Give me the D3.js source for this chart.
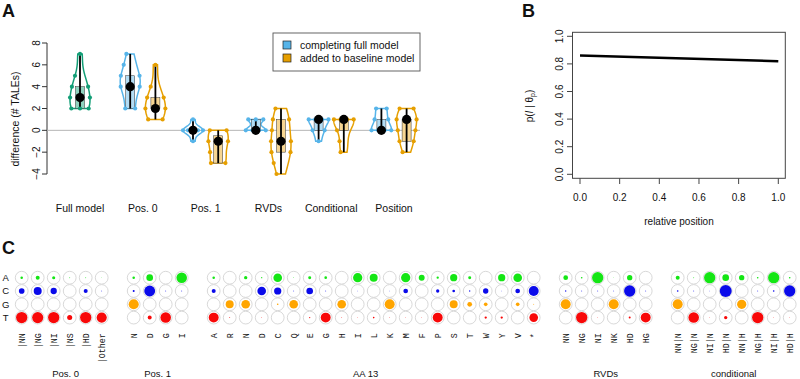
<!DOCTYPE html>
<html><head><meta charset="utf-8">
<script src="https://cdn.jsdelivr.net/npm/d3@7"></script>
<style>
body{margin:0;background:#fff}
svg{display:block}
text{font-family:"Liberation Sans",Arial,Helvetica,sans-serif;fill:#111}
.mono{font-family:"Liberation Mono","DejaVu Sans Mono",monospace}
</style>
</head><body>
<svg id="chart" width="800" height="379"></svg>
<script>
// ================= DATA =================
// Panel A
const categories = ["Full model","Pos. 0","Pos. 1","RVDs","Conditional","Position"];
const groupCategory = [0,1,1,2,2,3,3,4,4,5,5];
const groupKind = ["full","complete","added","complete","added","complete","added","complete","added","complete","added"];
const groupPoints = [
  [2,2,2,3,3,4,4,5,7],
  [2,2,4,4,4,5,5,6,7],
  [1,1,2,2,2,3,3,4,6],
  [-1,0,0,0,0,0,1],
  [-3,-3,-2,-1,-1,0,0],
  [0,0,0,0,1,1,1],
  [-4,-3,-2,-2,-1,-1,0,1,1,2],
  [-1,0,0,1,1,1,1],
  [-2,-1,0,1,1,1,1],
  [0,0,0,0,1,1,2,2],
  [-2,-1,-1,0,0,1,1,1,2,2]
];
const boxLow  = [2, 2, 2, 0, -3, 0, -2, 0, 0, 0, -1];
const boxMed  = [3, 4, 2, 0, -1, 0, -1, 1, 1, 0, 1];
const boxHigh = [4, 5, 3, 0, -0.5, 1, 1, 1, 1, 1, 1];
const yTicksA = [-4,-2,0,2,4,6,8];
const legendLabels = ["completing full model","added to baseline model"];

// Panel B
const relPos = [0, 1];
const pIgivenTheta = [0.86, 0.82];
const bTicks = [0,0.2,0.4,0.6,0.8,1.0];

// Panel C
const bases = ["A","C","G","T"];
const cGroups = ["Pos. 0","Pos. 1","AA 13","RVDs","conditional"];
const cColumns = ["|NN","|NG","|NI","|NS","|HD","|Other",
  "N","D","G","I",
  "A","R","N","D","C","Q","E","G","H","I","L","K","M","F","P","S","T","W","Y","V","*",
  "NN","NG","NI","NK","HD","HG",
  "NN|N","NG|N","NI|N","HD|N","NN|H","NG|H","NI|H","HD|H"];
const cColumnGroup = [0,0,0,0,0,0, 1,1,1,1,
  2,2,2,2,2,2,2,2,2,2,2,2,2,2,2,2,2,2,2,2,2,
  3,3,3,3,3,3, 4,4,4,4,4,4,4,4];
const probA = [.04,.1,.06,.006,.006,.002, .04,.28,0,.7,
  .04,0,.07,.01,.47,.003,.056,.045,0,.54,.4,0,.54,.22,.034,.33,.056,0,.33,.47,0,
  .14,.017,.8,.002,.18,0, .1,.006,.8,.28,.18,.017,.8,.017];
const probC = [.2,.4,.25,0,.1,.004, .025,.75,.006,.006,
  .1,0,0,.47,.33,.005,.28,.006,0,.003,0,.003,.14,0,.07,.045,.011,.18,.003,.14,.62,
  .011,.006,.006,.004,.8,.006, .017,.006,.003,.9,0,.006,.017,.8];
const probG = [0,0,0,0,0,0, .64,0,0,0,
  0,.4,.47,0,.017,.47,0,0,.47,0,0,.62,0,0,0,.4,.14,.084,0,.084,.006,
  .62,0,0,.62,0,0, .62,0,0,0,.54,0,0,0];
const probT = [.8,.78,.8,.16,.8,.65, 0,.1,.7,0,
  .62,.006,0,.003,0,0,.01,.62,.004,.002,.017,.003,.002,.002,.62,0,0,.034,.034,0,.47,
  0,.8,.002,0,.025,.62, 0,.7,.002,.07,0,.8,.002,.002];

// ================= STYLE / LAYOUT =================
const svg = d3.select("#chart");
const kindStyle = {
  full:     {line:"#129e76", fill:"#8fd3bf"},
  complete: {line:"#56B4E9", fill:"#b3ddf5"},
  added:    {line:"#E69F00", fill:"#f6d592"}
};
const kindOffset = {full:0, complete:-12.6, added:12.6};

function title(x, y, t){
  svg.append("text").attr("x",x).attr("y",y).attr("font-size",18).attr("font-weight","bold").text(t);
}

// ================= PANEL A =================
title(2, 17, "A");
const yA = d3.scaleLinear().domain([-4,8]).range([174,43]);
const xCat = d3.scalePoint().domain(categories).range([80,394]);
const gA = svg.append("g");

gA.append("line").attr("x1",47).attr("x2",47).attr("y1",yA(8)).attr("y2",yA(-4)).attr("stroke","#333");
yTicksA.forEach(t=>{
  gA.append("line").attr("x1",42).attr("x2",47).attr("y1",yA(t)).attr("y2",yA(t)).attr("stroke","#333");
  gA.append("text").attr("transform",`translate(40,${yA(t)}) rotate(-90)`)
    .attr("text-anchor","middle").attr("font-size",10).text(String(t).replace("-","\u2212"));
});
gA.append("text").attr("transform","translate(19,119) rotate(-90)").attr("text-anchor","middle")
  .attr("font-size",10.5).text("difference (# TALEs)");

gA.append("line").attr("x1",47).attr("x2",420).attr("y1",yA(0)).attr("y2",yA(0)).attr("stroke","#b5b5b5").attr("stroke-width",1);

categories.forEach(c=>{
  gA.append("text").attr("x",xCat(c)).attr("y",212).attr("text-anchor","middle").attr("font-size",10.5).text(c);
});

function kdeShape(pts){
  const n = pts.length, sd = d3.deviation(pts);
  const h = 0.9*sd*Math.pow(n,-0.2);
  const lo = d3.min(pts), hi = d3.max(pts);
  const ts = d3.range(0,61).map(i=>lo+(hi-lo)*i/60);
  const dens = t => d3.sum(pts, x=>Math.exp(-0.5*((t-x)/h)**2));
  const ds = ts.map(dens);
  const mx = d3.max(ds);
  return {ts, ws: ds.map(d=>10*d/mx), dens, mx};
}

groupPoints.forEach((pts,i)=>{
  const kind = groupKind[i], st = kindStyle[kind];
  const cx = xCat(categories[groupCategory[i]]) + kindOffset[kind];
  const sh = kdeShape(pts);
  const g = gA.append("g");
  const left = sh.ts.map((t,j)=>[cx-sh.ws[j], yA(t)]);
  const right = sh.ts.map((t,j)=>[cx+sh.ws[j], yA(t)]).reverse();
  g.append("path").attr("d", d3.line()(left.concat(right))+"Z")
    .attr("fill","none").attr("stroke",st.line).attr("stroke-width",1.5);
  g.append("rect").attr("x",cx-4.5).attr("width",9)
    .attr("y",yA(boxHigh[i])).attr("height",Math.max(0,yA(boxLow[i])-yA(boxHigh[i])))
    .attr("fill",st.fill).attr("stroke","#333").attr("stroke-width",0.5);
  g.append("line").attr("x1",cx).attr("x2",cx).attr("y1",yA(d3.min(pts))).attr("y2",yA(d3.max(pts)))
    .attr("stroke","#000").attr("stroke-width",1.8);
  const groups = d3.groups(pts, d=>d);
  groups.forEach(([v, arr])=>{
    const w = 10*sh.dens(v)/sh.mx;
    const k = arr.length;
    let xs;
    if (k===1) xs = [w<3 ? 0 : -w];
    else if (k===2) xs = [-w, w];
    else xs = d3.range(k).map(j=>-w + 2*w*j/(k-1));
    xs.forEach(dx=>{
      g.append("circle").attr("cx",cx+dx).attr("cy",yA(v)).attr("r",2.1).attr("fill",st.line);
    });
  });
  g.append("circle").attr("cx",cx).attr("cy",yA(boxMed[i])).attr("r",4.6).attr("fill","#000");
});

const lg = gA.append("g");
lg.append("rect").attr("x",273).attr("y",33).attr("width",147).attr("height",38)
  .attr("fill","#fff").attr("stroke","#555").attr("stroke-width",0.9);
["complete","added"].forEach((k,j)=>{
  const y = 45 + j*13;
  lg.append("rect").attr("x",283).attr("y",y-4).attr("width",8).attr("height",8)
    .attr("fill",kindStyle[k].line).attr("stroke","#222").attr("stroke-width",0.7);
  lg.append("text").attr("x",300).attr("y",y+3.8).attr("font-size",10.5).text(legendLabels[j]);
});

// ================= PANEL B =================
title(522, 17, "B");
const xB = d3.scaleLinear().domain([0,1]).range([580,778.3]);
const yB = d3.scaleLinear().domain([0,1]).range([174.3,36.3]);
const gB = svg.append("g");
gB.append("rect").attr("x",572.5).attr("y",32.3).attr("width",785.3-572.5).attr("height",178.3-32.3)
  .attr("fill","none").attr("stroke","#444").attr("stroke-width",1);
bTicks.forEach(t=>{
  gB.append("line").attr("x1",567).attr("x2",572.5).attr("y1",yB(t)).attr("y2",yB(t)).attr("stroke","#444");
  gB.append("text").attr("transform",`translate(563,${yB(t)}) rotate(-90)`).attr("text-anchor","middle")
    .attr("font-size",10).text(t.toFixed(1));
  gB.append("line").attr("x1",xB(t)).attr("x2",xB(t)).attr("y1",178.3).attr("y2",184).attr("stroke","#444");
  gB.append("text").attr("x",xB(t)).attr("y",200.5).attr("text-anchor","middle").attr("font-size",10).text(t.toFixed(1));
});
gB.append("path").attr("d", d3.line().x((d,i)=>xB(relPos[i])).y((d,i)=>yB(pIgivenTheta[i]))(relPos))
  .attr("fill","none").attr("stroke","#000").attr("stroke-width",2.5);
gB.append("text").attr("x",679).attr("y",225).attr("text-anchor","middle").attr("font-size",10).text("relative position");
const yl = gB.append("text").attr("transform","translate(533,106) rotate(-90)").attr("text-anchor","middle").attr("font-size",10);
yl.append("tspan").text("p(");
yl.append("tspan").attr("font-style","italic").text("I");
yl.append("tspan").text(" | \u03b8");
yl.append("tspan").attr("font-size",7).attr("dy",2).text("p");
yl.append("tspan").attr("dy",-2).text(")");

// ================= PANEL C =================
title(2, 254, "C");
const baseColor = {A:"#14e614", C:"#0a0aea", G:"#ffa500", T:"#f80808"};
const probs = {A:probA, C:probC, G:probG, T:probT};
const slotOf = i => i + cColumnGroup[i];
const xC = d3.scaleLinear().domain([0,48]).range([21.7,789.7]);
const yC = d3.scalePoint().domain(bases).range([277.7,317.6]);
const rC = d3.scaleSqrt().domain([0,1]).range([0,6.3]);
const gC = svg.append("g");
bases.forEach(b=>{
  gC.append("text").attr("x",5.7).attr("y",yC(b)+3.3).attr("text-anchor","middle").attr("font-size",9.5).text(b);
});
cColumns.forEach((lab,i)=>{
  const x = xC(slotOf(i));
  bases.forEach(b=>{
    gC.append("circle").attr("cx",x).attr("cy",yC(b)).attr("r",6.4)
      .attr("fill","#fff").attr("stroke","#d4d4d4").attr("stroke-width",0.9);
    const p = probs[b][i];
    if (p>0) gC.append("circle").attr("cx",x).attr("cy",yC(b)).attr("r",rC(p)).attr("fill",baseColor[b]);
  });
  gC.append("text").attr("class","mono").attr("transform",`translate(${x+2.8},333.3) rotate(-90)`)
    .attr("text-anchor","end").attr("font-size",8.3).text(lab);
});
const groupLabelSlot = [2.75, 8.5, 21.5, 36.5, 44.5];
cGroups.forEach((g,j)=>{
  gC.append("text").attr("x",xC(groupLabelSlot[j])).attr("y",377).attr("text-anchor","middle").attr("font-size",9.5).text(g);
});
</script>
</body></html>
